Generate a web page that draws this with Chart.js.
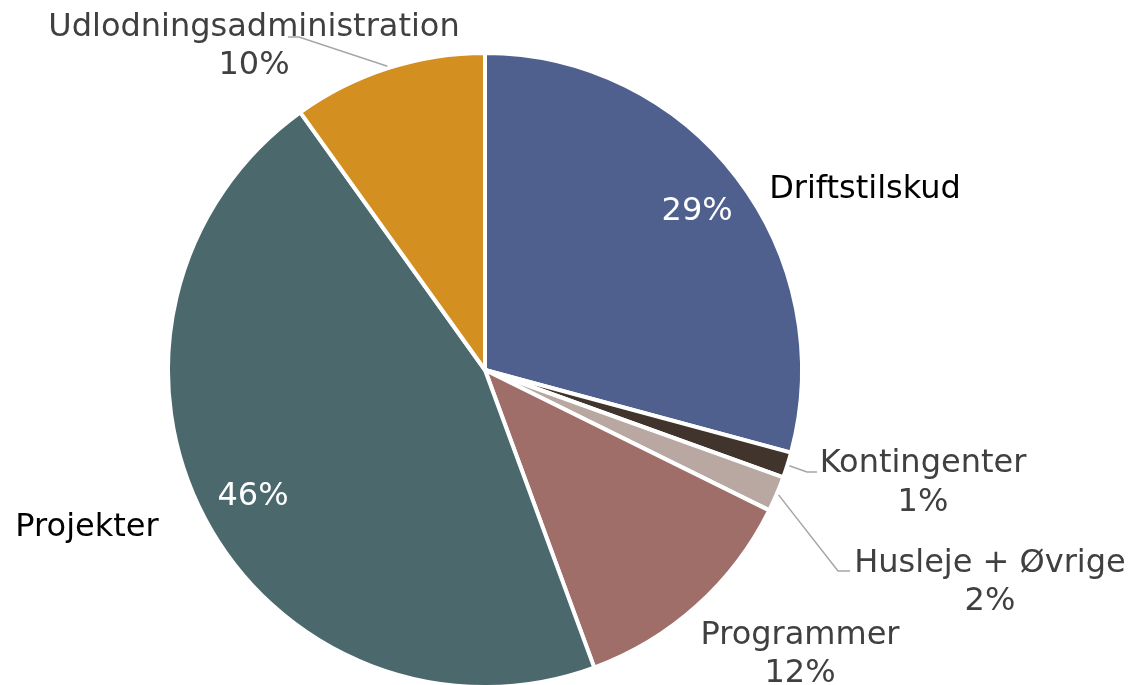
<!DOCTYPE html>
<html>
<head>
<meta charset="utf-8">
<script src="https://cdn.jsdelivr.net/npm/chart.js@4.4.1/dist/chart.umd.min.js"></script>
<style>
  html, body { margin: 0; background: #fff; }
  #wrap { width: 1132px; height: 685px; }
</style>
</head>
<body>
<div id="wrap"><canvas id="pie" width="1132" height="685"></canvas></div>
<script>
/* Fordeling af udgifter - lagkage */
const categories = ['Driftstilskud', 'Kontingenter', 'Husleje + Øvrige', 'Programmer', 'Projekter', 'Udlodningsadministration'];
const shares = [29.2, 1.3, 1.8, 12.1, 45.7, 9.9];
const sliceColors = ['#4F5F8E', '#40342D', '#B8A8A1', '#A06E68', '#4B686D', '#D48F21'];

// where the text goes (name line, percent line) and optional leader elbows
const FONT = '32px "DejaVu Sans", Verdana, sans-serif';
const labelLayout = [
  { name: [865, 198], color: '#000', inside: true },
  { name: [923, 472], pct: [923, 511], color: '#404040', leader: [[807, 472], [817, 472]] },
  { name: [990, 572], pct: [990, 610], color: '#404040', leader: [[838, 571], [850, 571]] },
  { name: [800, 644], pct: [800, 682], color: '#404040' },
  { name: [87, 536], color: '#000', inside: true },
  { name: [254, 36], pct: [254, 74], color: '#404040', leader: [[299, 37], [288, 37]] },
];

const total = shares.reduce((a, b) => a + b, 0);
const pctText = (v) => Math.round(v / total * 100) + '%';

const pieLabels = {
  id: 'pieLabels',
  afterDatasetsDraw(chart) {
    const { ctx } = chart;
    const arcs = chart.getDatasetMeta(0).data;
    ctx.save();
    ctx.font = FONT;
    ctx.textAlign = 'center';
    ctx.textBaseline = 'alphabetic';
    arcs.forEach((arc, i) => {
      const p = arc.getProps(['x', 'y', 'startAngle', 'endAngle', 'outerRadius'], true);
      const mid = (p.startAngle + p.endAngle) / 2;
      const lay = labelLayout[i];
      if (lay.leader) {
        ctx.strokeStyle = '#A6A6A6';
        ctx.lineWidth = 1.5;
        ctx.beginPath();
        ctx.moveTo(p.x + Math.cos(mid) * (p.outerRadius + 2), p.y + Math.sin(mid) * (p.outerRadius + 2));
        lay.leader.forEach(([x, y]) => ctx.lineTo(x, y));
        ctx.stroke();
      }
      ctx.fillStyle = lay.color;
      ctx.fillText(categories[i], lay.name[0], lay.name[1]);
      if (lay.inside) {
        const r = p.outerRadius * 0.835;
        ctx.fillStyle = '#fff';
        ctx.fillText(pctText(shares[i]), p.x + Math.cos(mid) * r + 2, p.y + Math.sin(mid) * r + 11);
      } else {
        ctx.fillText(pctText(shares[i]), lay.pct[0], lay.pct[1]);
      }
    });
    ctx.restore();
  },
};

new Chart(document.getElementById('pie'), {
  type: 'pie',
  data: {
    labels: categories,
    datasets: [{
      data: shares,
      backgroundColor: sliceColors,
      borderColor: '#fff',
      borderWidth: 4,
      radius: 317,
    }],
  },
  options: {
    responsive: false,
    devicePixelRatio: 1,
    animation: false,
    layout: { padding: { left: 0, right: 162, top: 55, bottom: 0 } },
    plugins: { legend: { display: false }, tooltip: { enabled: false } },
  },
  plugins: [pieLabels],
});
</script>
</body>
</html>
